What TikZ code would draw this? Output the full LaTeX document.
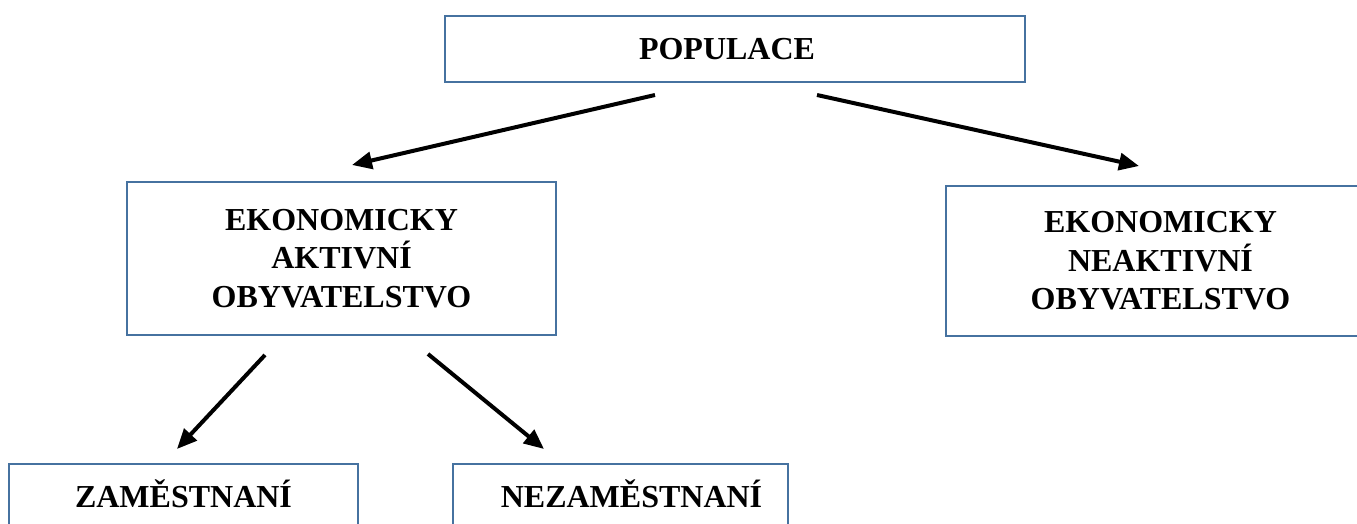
\documentclass[tikz,border=0pt]{standalone}
\usepackage{fontspec}
\setmainfont{Liberation Serif}
\usetikzlibrary{arrows.meta}
\definecolor{boxblue}{RGB}{70,114,160}
\begin{document}
\begin{tikzpicture}[x=0.5pt,y=-0.5pt,
        box/.style={draw=boxblue,line width=1pt,rectangle,inner sep=0pt,
            font=\bfseries\fontsize{16}{19.25}\selectfont},
        one/.style={box,text height=11pt,text depth=0pt},
        many/.style={box,align=center},
        arr/.style={-{Triangle[length=10pt,width=8.5pt]},line width=2pt}]
    \useasboundingbox (0,0) rectangle (1357,524);
    \clip (0,0) rectangle (1357,524);

    \node[one,minimum width=290pt,minimum height=33pt] (P) at (735,49) {\hspace*{-8pt}POPULACE};
    \node[many,minimum width=214.5pt,minimum height=76.5pt] (A) at (341.5,258.5)
        {EKONOMICKY\\AKTIVNÍ\\OBYVATELSTVO};
    \node[many,minimum width=214.5pt,minimum height=75pt] (N) at (1160.5,261)
        {EKONOMICKY\\NEAKTIVNÍ\\OBYVATELSTVO};
    \node[one,anchor=north,minimum width=174.5pt,minimum height=32pt] (Z) at (183.5,463) {ZAMĚSTNANÍ};
    \node[one,anchor=north,minimum width=167.5pt,minimum height=32pt] (U) at (620.5,463) {\hspace*{11pt}NEZAMĚSTNANÍ};

    \coordinate (P1) at (655,95);
    \coordinate (P2) at (817,95);
    \coordinate (A1) at (265,355);
    \coordinate (A2) at (428,354);
    \coordinate (At) at (352,165);
    \coordinate (Nt) at (1139,166);
    \coordinate (Zt) at (177,449);
    \coordinate (Ut) at (544,449);

    \draw [arr] (P1) -- (At);
    \draw [arr] (P2) -- (Nt);
    \draw [arr] (A1) -- (Zt);
    \draw [arr] (A2) -- (Ut);
\end{tikzpicture}
\end{document}
